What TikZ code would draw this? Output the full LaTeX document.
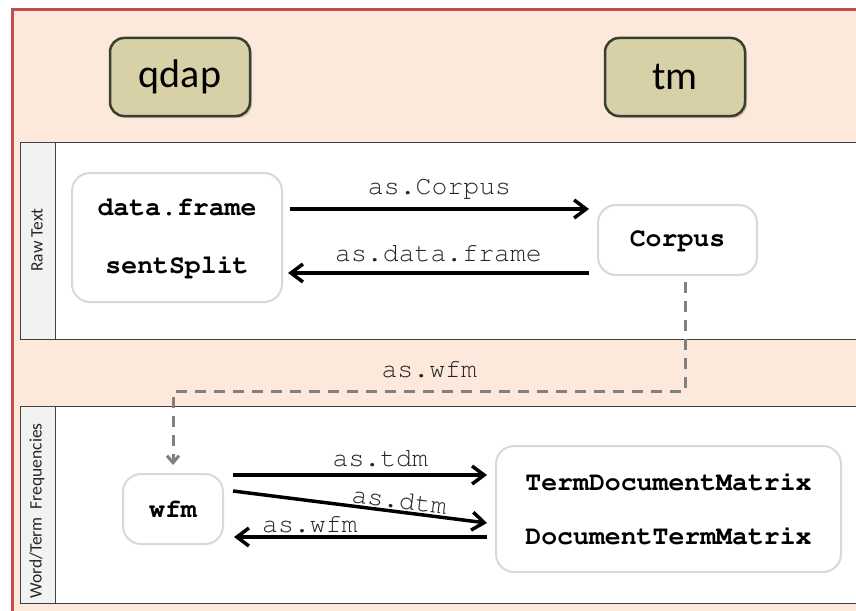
\documentclass[tikz,border=0pt]{standalone}
\usepackage{fontspec}
\newfontfamily\calf{Carlito}
\newcommand\courf{\fontencoding{T1}\fontfamily{pcr}\selectfont}
\usetikzlibrary{arrows.meta,calc,shadows}
\definecolor{peach}{HTML}{FCE9DC}
\definecolor{framered}{HTML}{C0504D}
\definecolor{tan}{HTML}{D8D0A6}
\definecolor{tanborder}{HTML}{3C3C30}
\definecolor{headgray}{HTML}{F2F2F2}
\definecolor{boxgray}{HTML}{D9D9D9}
\definecolor{labgray}{HTML}{262626}
\definecolor{dashgray}{HTML}{808080}
\tikzset{
  pkg/.style={draw=tanborder, line width=2.5pt, fill=tan, rounded corners=14pt,
    minimum width=140pt, minimum height=78pt, inner sep=0pt,
    font=\calf\fontsize{40}{44}\selectfont,
    drop shadow={opacity=0.35, shadow xshift=2pt, shadow yshift=-2pt}},
  obj/.style={draw=boxgray, line width=2pt, fill=white, rounded corners=18pt,
    inner sep=0pt, align=center, font=\courf\bfseries\fontsize{26.5}{29}\selectfont},
  lanebox/.style={draw=black!75, line width=1pt, fill=white},
  lanehead/.style={draw=black!75, line width=1pt, fill=headgray},
  lanelab/.style={rotate=90, font=\calf\fontsize{17.5}{19}\selectfont, text=black!85},
  arr/.style={line width=3.5pt, -{Straight Barb[length=12pt, width=18pt]}},
  alab/.style={font=\courf\fontsize{26.5}{29}\selectfont, text=labgray, inner sep=1pt},
  dsh/.style={draw=dashgray, line width=3pt, dash pattern=on 11pt off 8pt,
    -{Straight Barb[length=7pt, width=12pt]}}
}
\begin{document}
\begin{tikzpicture}[x=1pt,y=-1pt]
\clip (0,0) rectangle (856,610);
\fill[white] (0,0) rectangle (856,610);
\draw[fill=peach, draw=framered, line width=3pt] (12,10) rectangle (900,650);
% lanes
\draw[lanebox] (20,142) rectangle (900,339);
\draw[lanehead] (20,142) rectangle (55,339);
\node[lanelab] (lab1) at (37,240) {Raw Text};
\draw[lanebox] (20,406) rectangle (900,603);
\draw[lanehead] (20,406) rectangle (55,603);
\node[lanelab] (lab2) at (37,511) {Word/Term\ \ Frequencies};
% packages
\node[pkg] (qdap) at (180,77) {qdap};
\node[pkg] (tm) at (675,77) {tm};
% objects
\node[obj, minimum width=210pt, minimum height=129pt] (df) at (177,237.5)
  {data.frame\\[29pt]sentSplit};
\node[obj, minimum width=159pt, minimum height=70pt] (corpus) at (677.5,240) {Corpus};
\node[obj, minimum width=100pt, minimum height=70pt] (wfm) at (173,509) {wfm};
\node[obj, minimum width=345pt, minimum height=126pt] (tdm) at (668.5,509)
  {TermDocumentMatrix\\[25pt]DocumentTermMatrix};
% raw text arrows
\draw[arr] ($(df.east)+(7,-28.5)$) -- node[alab, midway, above=8pt] (l1) {as.Corpus}
  ($(corpus.west)+(-8,-31)$);
\draw[arr] ($(corpus.west)+(-8,33)$) -- node[alab, midway, above=8pt] (l2) {as.data.frame}
  ($(df.east)+(5,35.5)$);
% dashed connector
\draw[dsh] ($(corpus.south)+(8,6)$) -- ++(0,109) -| node[alab, pos=0.25, above=11pt] (l3) {as.wfm}
  ($(wfm.north)+(0,-8)$);
% lower arrows
\draw[arr] ($(wfm.east)+(9,-34)$) -- node[alab, pos=0.58, above=5pt] (l4) {as.tdm}
  ($(tdm.west)+(-8,-34)$);
\draw[arr] ($(wfm.east)+(9,-18)$) -- node[alab, pos=0.65, sloped, above=1pt, inner sep=0pt] (l5) {as.dtm}
  ($(tdm.west)+(-8,14)$);
\draw[arr] ($(tdm.west)+(-8,28)$) -- node[alab, pos=0.7, above=1pt] (l6) {as.wfm}
  ($(wfm.east)+(10,28)$);
\end{tikzpicture}
\end{document}
